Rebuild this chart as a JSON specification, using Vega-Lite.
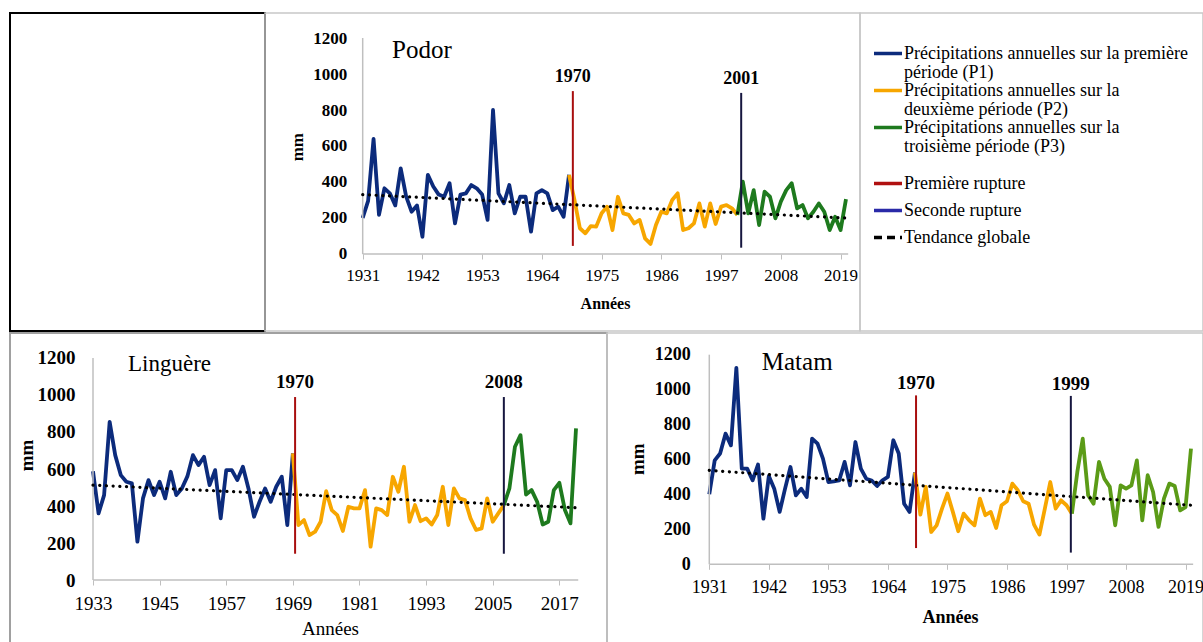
{
  "$schema": "https://vega.github.io/schema/vega-lite/v6.json",
  "background": "white",
  "padding": {"left": 9, "top": 12, "right": 0, "bottom": 0},
  "spacing": 0,
  "resolve": {"scale": {"color": "independent"}, "legend": {"color": "independent"}},
  "config": {
    "view": {"stroke": null},
    "font": "Liberation Serif",
    "text": {"font": "Liberation Serif", "color": "black"}
  },
  "datasets": {
    "podor": [
      {"periode":"P1","annee":1931,"pluie":200},{"periode":"P1","annee":1932,"pluie":295},{"periode":"P1","annee":1933,"pluie":640},{"periode":"P1","annee":1934,"pluie":217},{"periode":"P1","annee":1935,"pluie":365},{"periode":"P1","annee":1936,"pluie":337},{"periode":"P1","annee":1937,"pluie":270},{"periode":"P1","annee":1938,"pluie":476},{"periode":"P1","annee":1939,"pluie":320},{"periode":"P1","annee":1940,"pluie":235},{"periode":"P1","annee":1941,"pluie":270},{"periode":"P1","annee":1942,"pluie":96},{"periode":"P1","annee":1943,"pluie":440},{"periode":"P1","annee":1944,"pluie":375},{"periode":"P1","annee":1945,"pluie":330},{"periode":"P1","annee":1946,"pluie":318},{"periode":"P1","annee":1947,"pluie":393},{"periode":"P1","annee":1948,"pluie":170},{"periode":"P1","annee":1949,"pluie":330},{"periode":"P1","annee":1950,"pluie":337},{"periode":"P1","annee":1951,"pluie":383},{"periode":"P1","annee":1952,"pluie":365},{"periode":"P1","annee":1953,"pluie":330},{"periode":"P1","annee":1954,"pluie":190},{"periode":"P1","annee":1955,"pluie":800},{"periode":"P1","annee":1956,"pluie":337},{"periode":"P1","annee":1957,"pluie":282},{"periode":"P1","annee":1958,"pluie":383},{"periode":"P1","annee":1959,"pluie":226},{"periode":"P1","annee":1960,"pluie":318},{"periode":"P1","annee":1961,"pluie":318},{"periode":"P1","annee":1962,"pluie":124},{"periode":"P1","annee":1963,"pluie":337},{"periode":"P1","annee":1964,"pluie":355},{"periode":"P1","annee":1965,"pluie":337},{"periode":"P1","annee":1966,"pluie":244},{"periode":"P1","annee":1967,"pluie":263},{"periode":"P1","annee":1968,"pluie":207},{"periode":"P1","annee":1969,"pluie":440},
      {"periode":"P2","annee":1969,"pluie":440},{"periode":"P2","annee":1970,"pluie":300},{"periode":"P2","annee":1971,"pluie":143},{"periode":"P2","annee":1972,"pluie":115},{"periode":"P2","annee":1973,"pluie":155},{"periode":"P2","annee":1974,"pluie":152},{"periode":"P2","annee":1975,"pluie":226},{"periode":"P2","annee":1976,"pluie":263},{"periode":"P2","annee":1977,"pluie":133},{"periode":"P2","annee":1978,"pluie":318},{"periode":"P2","annee":1979,"pluie":226},{"periode":"P2","annee":1980,"pluie":217},{"periode":"P2","annee":1981,"pluie":170},{"periode":"P2","annee":1982,"pluie":189},{"periode":"P2","annee":1983,"pluie":87},{"periode":"P2","annee":1984,"pluie":56},{"periode":"P2","annee":1985,"pluie":161},{"periode":"P2","annee":1986,"pluie":235},{"periode":"P2","annee":1987,"pluie":226},{"periode":"P2","annee":1988,"pluie":300},{"periode":"P2","annee":1989,"pluie":337},{"periode":"P2","annee":1990,"pluie":133},{"periode":"P2","annee":1991,"pluie":143},{"periode":"P2","annee":1992,"pluie":170},{"periode":"P2","annee":1993,"pluie":281},{"periode":"P2","annee":1994,"pluie":152},{"periode":"P2","annee":1995,"pluie":281},{"periode":"P2","annee":1996,"pluie":167},{"periode":"P2","annee":1997,"pluie":263},{"periode":"P2","annee":1998,"pluie":272},{"periode":"P2","annee":1999,"pluie":254},{"periode":"P2","annee":2000,"pluie":217},
      {"periode":"P3","annee":2000,"pluie":217},{"periode":"P3","annee":2001,"pluie":402},{"periode":"P3","annee":2002,"pluie":226},{"periode":"P3","annee":2003,"pluie":355},{"periode":"P3","annee":2004,"pluie":161},{"periode":"P3","annee":2005,"pluie":346},{"periode":"P3","annee":2006,"pluie":318},{"periode":"P3","annee":2007,"pluie":198},{"periode":"P3","annee":2008,"pluie":291},{"periode":"P3","annee":2009,"pluie":355},{"periode":"P3","annee":2010,"pluie":393},{"periode":"P3","annee":2011,"pluie":254},{"periode":"P3","annee":2012,"pluie":272},{"periode":"P3","annee":2013,"pluie":198},{"periode":"P3","annee":2014,"pluie":235},{"periode":"P3","annee":2015,"pluie":281},{"periode":"P3","annee":2016,"pluie":235},{"periode":"P3","annee":2017,"pluie":133},{"periode":"P3","annee":2018,"pluie":207},{"periode":"P3","annee":2019,"pluie":133},{"periode":"P3","annee":2020,"pluie":305}
    ],
    "linguere": [
      {"periode":"P1","annee":1933,"pluie":588},{"periode":"P1","annee":1934,"pluie":360},{"periode":"P1","annee":1935,"pluie":459},{"periode":"P1","annee":1936,"pluie":855},{"periode":"P1","annee":1937,"pluie":675},{"periode":"P1","annee":1938,"pluie":567},{"periode":"P1","annee":1939,"pluie":531},{"periode":"P1","annee":1940,"pluie":522},{"periode":"P1","annee":1941,"pluie":207},{"periode":"P1","annee":1942,"pluie":441},{"periode":"P1","annee":1943,"pluie":540},{"periode":"P1","annee":1944,"pluie":459},{"periode":"P1","annee":1945,"pluie":531},{"periode":"P1","annee":1946,"pluie":441},{"periode":"P1","annee":1947,"pluie":585},{"periode":"P1","annee":1948,"pluie":459},{"periode":"P1","annee":1949,"pluie":495},{"periode":"P1","annee":1950,"pluie":560},{"periode":"P1","annee":1951,"pluie":675},{"periode":"P1","annee":1952,"pluie":621},{"periode":"P1","annee":1953,"pluie":666},{"periode":"P1","annee":1954,"pluie":513},{"periode":"P1","annee":1955,"pluie":594},{"periode":"P1","annee":1956,"pluie":333},{"periode":"P1","annee":1957,"pluie":594},{"periode":"P1","annee":1958,"pluie":594},{"periode":"P1","annee":1959,"pluie":540},{"periode":"P1","annee":1960,"pluie":612},{"periode":"P1","annee":1961,"pluie":495},{"periode":"P1","annee":1962,"pluie":342},{"periode":"P1","annee":1963,"pluie":423},{"periode":"P1","annee":1964,"pluie":495},{"periode":"P1","annee":1965,"pluie":423},{"periode":"P1","annee":1966,"pluie":504},{"periode":"P1","annee":1967,"pluie":558},{"periode":"P1","annee":1968,"pluie":297},{"periode":"P1","annee":1969,"pluie":684},
      {"periode":"P2","annee":1969,"pluie":684},{"periode":"P2","annee":1970,"pluie":297},{"periode":"P2","annee":1971,"pluie":324},{"periode":"P2","annee":1972,"pluie":243},{"periode":"P2","annee":1973,"pluie":261},{"periode":"P2","annee":1974,"pluie":315},{"periode":"P2","annee":1975,"pluie":480},{"periode":"P2","annee":1976,"pluie":378},{"periode":"P2","annee":1977,"pluie":351},{"periode":"P2","annee":1978,"pluie":265},{"periode":"P2","annee":1979,"pluie":396},{"periode":"P2","annee":1980,"pluie":387},{"periode":"P2","annee":1981,"pluie":387},{"periode":"P2","annee":1982,"pluie":486},{"periode":"P2","annee":1983,"pluie":180},{"periode":"P2","annee":1984,"pluie":387},{"periode":"P2","annee":1985,"pluie":378},{"periode":"P2","annee":1986,"pluie":351},{"periode":"P2","annee":1987,"pluie":558},{"periode":"P2","annee":1988,"pluie":477},{"periode":"P2","annee":1989,"pluie":612},{"periode":"P2","annee":1990,"pluie":315},{"periode":"P2","annee":1991,"pluie":405},{"periode":"P2","annee":1992,"pluie":318},{"periode":"P2","annee":1993,"pluie":333},{"periode":"P2","annee":1994,"pluie":300},{"periode":"P2","annee":1995,"pluie":351},{"periode":"P2","annee":1996,"pluie":504},{"periode":"P2","annee":1997,"pluie":297},{"periode":"P2","annee":1998,"pluie":495},{"periode":"P2","annee":1999,"pluie":441},{"periode":"P2","annee":2000,"pluie":432},{"periode":"P2","annee":2001,"pluie":333},{"periode":"P2","annee":2002,"pluie":270},{"periode":"P2","annee":2003,"pluie":279},{"periode":"P2","annee":2004,"pluie":441},{"periode":"P2","annee":2005,"pluie":315},{"periode":"P2","annee":2006,"pluie":360},{"periode":"P2","annee":2007,"pluie":405},
      {"periode":"P3","annee":2007,"pluie":405},{"periode":"P3","annee":2008,"pluie":495},{"periode":"P3","annee":2009,"pluie":720},{"periode":"P3","annee":2010,"pluie":783},{"periode":"P3","annee":2011,"pluie":462},{"periode":"P3","annee":2012,"pluie":486},{"periode":"P3","annee":2013,"pluie":423},{"periode":"P3","annee":2014,"pluie":300},{"periode":"P3","annee":2015,"pluie":315},{"periode":"P3","annee":2016,"pluie":486},{"periode":"P3","annee":2017,"pluie":525},{"periode":"P3","annee":2018,"pluie":378},{"periode":"P3","annee":2019,"pluie":306},{"periode":"P3","annee":2020,"pluie":819}
    ],
    "matam": [
      {"periode":"P1","annee":1931,"pluie":401},{"periode":"P1","annee":1932,"pluie":595},{"periode":"P1","annee":1933,"pluie":634},{"periode":"P1","annee":1934,"pluie":748},{"periode":"P1","annee":1935,"pluie":681},{"periode":"P1","annee":1936,"pluie":1124},{"periode":"P1","annee":1937,"pluie":548},{"periode":"P1","annee":1938,"pluie":548},{"periode":"P1","annee":1939,"pluie":481},{"periode":"P1","annee":1940,"pluie":571},{"periode":"P1","annee":1941,"pluie":261},{"periode":"P1","annee":1942,"pluie":506},{"periode":"P1","annee":1943,"pluie":433},{"periode":"P1","annee":1944,"pluie":300},{"periode":"P1","annee":1945,"pluie":433},{"periode":"P1","annee":1946,"pluie":557},{"periode":"P1","annee":1947,"pluie":395},{"periode":"P1","annee":1948,"pluie":433},{"periode":"P1","annee":1949,"pluie":385},{"periode":"P1","annee":1950,"pluie":720},{"periode":"P1","annee":1951,"pluie":691},{"periode":"P1","annee":1952,"pluie":605},{"periode":"P1","annee":1953,"pluie":471},{"periode":"P1","annee":1954,"pluie":475},{"periode":"P1","annee":1955,"pluie":480},{"periode":"P1","annee":1956,"pluie":586},{"periode":"P1","annee":1957,"pluie":452},{"periode":"P1","annee":1958,"pluie":700},{"periode":"P1","annee":1959,"pluie":548},{"periode":"P1","annee":1960,"pluie":490},{"periode":"P1","annee":1961,"pluie":480},{"periode":"P1","annee":1962,"pluie":448},{"periode":"P1","annee":1963,"pluie":481},{"periode":"P1","annee":1964,"pluie":500},{"periode":"P1","annee":1965,"pluie":710},{"periode":"P1","annee":1966,"pluie":634},{"periode":"P1","annee":1967,"pluie":347},{"periode":"P1","annee":1968,"pluie":300},{"periode":"P1","annee":1969,"pluie":525},
      {"periode":"P2","annee":1969,"pluie":525},{"periode":"P2","annee":1970,"pluie":284},{"periode":"P2","annee":1971,"pluie":443},{"periode":"P2","annee":1972,"pluie":185},{"periode":"P2","annee":1973,"pluie":223},{"periode":"P2","annee":1974,"pluie":319},{"periode":"P2","annee":1975,"pluie":405},{"periode":"P2","annee":1976,"pluie":300},{"periode":"P2","annee":1977,"pluie":189},{"periode":"P2","annee":1978,"pluie":290},{"periode":"P2","annee":1979,"pluie":252},{"periode":"P2","annee":1980,"pluie":223},{"periode":"P2","annee":1981,"pluie":376},{"periode":"P2","annee":1982,"pluie":281},{"periode":"P2","annee":1983,"pluie":300},{"periode":"P2","annee":1984,"pluie":208},{"periode":"P2","annee":1985,"pluie":338},{"periode":"P2","annee":1986,"pluie":361},{"periode":"P2","annee":1987,"pluie":462},{"periode":"P2","annee":1988,"pluie":424},{"periode":"P2","annee":1989,"pluie":361},{"periode":"P2","annee":1990,"pluie":347},{"periode":"P2","annee":1991,"pluie":227},{"periode":"P2","annee":1992,"pluie":170},{"periode":"P2","annee":1993,"pluie":319},{"periode":"P2","annee":1994,"pluie":471},{"periode":"P2","annee":1995,"pluie":319},{"periode":"P2","annee":1996,"pluie":366},{"periode":"P2","annee":1997,"pluie":338},{"periode":"P2","annee":1998,"pluie":290},
      {"periode":"P3","annee":1998,"pluie":290},{"periode":"P3","annee":1999,"pluie":529},{"periode":"P3","annee":2000,"pluie":719},{"periode":"P3","annee":2001,"pluie":395},{"periode":"P3","annee":2002,"pluie":347},{"periode":"P3","annee":2003,"pluie":586},{"periode":"P3","annee":2004,"pluie":490},{"periode":"P3","annee":2005,"pluie":443},{"periode":"P3","annee":2006,"pluie":223},{"periode":"P3","annee":2007,"pluie":452},{"periode":"P3","annee":2008,"pluie":433},{"periode":"P3","annee":2009,"pluie":452},{"periode":"P3","annee":2010,"pluie":595},{"periode":"P3","annee":2011,"pluie":252},{"periode":"P3","annee":2012,"pluie":510},{"periode":"P3","annee":2013,"pluie":414},{"periode":"P3","annee":2014,"pluie":214},{"periode":"P3","annee":2015,"pluie":376},{"periode":"P3","annee":2016,"pluie":462},{"periode":"P3","annee":2017,"pluie":448},{"periode":"P3","annee":2018,"pluie":309},{"periode":"P3","annee":2019,"pluie":328},{"periode":"P3","annee":2020,"pluie":662}
    ],
    "ruptures": [
      {"station":"Podor","rupture":"1970","type":"R1","annee":1969.7,"bas":45,"haut":905},
      {"station":"Podor","rupture":"2001","type":"R2","annee":2000.7,"bas":35,"haut":895},
      {"station":"Linguère","rupture":"1970","type":"R1","annee":1969.4,"bas":142,"haut":989},
      {"station":"Linguère","rupture":"2008","type":"R2","annee":2007.0,"bas":142,"haut":989},
      {"station":"Matam","rupture":"1970","type":"R1","annee":1969.2,"bas":93,"haut":967},
      {"station":"Matam","rupture":"1999","type":"R2","annee":1997.8,"bas":67,"haut":964}
    ],
    "tendances": [
      {"station":"Podor","annee":1931,"pluie":330},{"station":"Podor","annee":2020,"pluie":200},
      {"station":"Linguère","annee":1933,"pluie":513},{"station":"Linguère","annee":2020,"pluie":391},
      {"station":"Matam","annee":1931,"pluie":538},{"station":"Matam","annee":2020,"pluie":338}
    ]
  },
  "vconcat": [
    {
      "spacing": 0,
      "bounds": "flush",
      "resolve": {"scale": {"color": "independent"}, "legend": {"color": "independent"}},
      "hconcat": [
        {
          "width": 255, "height": 318,
          "view": {"stroke": "black", "strokeWidth": 2},
          "data": {"values": [{}]},
          "mark": {"type": "text", "text": " "},
          "encoding": {}
        },
        {
          "width": 595, "height": 318,
          "view": {"stroke": "#c8c8c8", "strokeWidth": 1.5},
          "layer": [
            {
              "data": {"name": "podor"},
              "mark": {"type": "line", "strokeWidth": 3.8, "strokeJoin": "round"},
              "encoding": {
                "x": {"field": "annee", "type": "quantitative", "scale": {"domain": [1913.01, 2022.58], "nice": false, "zero": false},
                  "axis": {"values": [1931,1942,1953,1964,1975,1986,1997,2008,2019], "format": "d", "offset": -77, "domain": false, "grid": false, "tickSize": 5, "tickColor": "#bfbfbf", "labelFont": "Liberation Serif", "labelFontSize": 17, "labelColor": "black", "labelPadding": 8, "labelFlush": false, "labelOverlap": false, "title": "Années", "titleFont": "Liberation Serif", "titleFontSize": 16, "titleFontWeight": "bold", "titleColor": "black", "titleX": 340, "titleY": 49, "titleBaseline": "middle"}},
                "y": {"field": "pluie", "type": "quantitative", "scale": {"domain": [-427.8, 1338.9], "nice": false, "zero": false},
                  "axis": {"values": [0,200,400,600,800,1000,1200], "format": "d", "offset": -97.7, "domain": false, "ticks": false, "grid": false, "labelFont": "Liberation Serif", "labelFontSize": 17, "labelFontWeight": "bold", "labelColor": "black", "labelPadding": 16, "title": "mm", "titleFont": "Liberation Serif", "titleFontSize": 17, "titleFontWeight": "bold", "titleColor": "black", "titleX": -65.7, "titleY": 133.7, "titleBaseline": "middle", "titleAngle": 270}},
                "color": {"field": "periode", "type": "nominal",
                  "scale": {"domain": ["P1","P2","P3","R1","R2","T"], "range": ["#0c2b7c","#f7a600","#1e7a1e","#b01010","#2a2aa8","#000000"]},
                  "legend": {
                    "orient": "none", "legendX": 607, "legendY": 31.5, "direction": "vertical", "columns": 1,
                    "title": null, "padding": 0, "symbolType": "M-1,0L1,0", "symbolSize": 784, "symbolStrokeWidth": 3.5, "symbolFillColor": "transparent",
                    "labelFont": "Liberation Serif", "labelFontSize": 18, "labelColor": "black", "labelLimit": 420, "labelOffset": 0, "rowPadding": 0,
                    "labelExpr": "datum.label == 'P1' ? ['Précipitations annuelles sur la première', 'période (P1)'] : datum.label == 'P2' ? ['Précipitations annuelles sur la', 'deuxième période (P2)'] : datum.label == 'P3' ? ['Précipitations annuelles sur la', 'troisième période (P3)', ''] : datum.label == 'R1' ? ['Première rupture', ''] : datum.label == 'R2' ? ['Seconde rupture', ''] : 'Tendance globale'",
                    "encode": {
                      "symbols": {"update": {"y": {"value": 9}, "strokeDash": {"signal": "datum.value == 'T' ? [8, 5] : [1, 0]"}, "strokeWidth": {"value": 3.5}}},
                      "labels": {"update": {"y": {"value": 9}, "lineHeight": {"signal": "datum.value == 'R1' || datum.value == 'R2' ? 9 : 19"}}}
                    }
                  }
                }
              }
            },
            {
              "data": {"values": [{}]},
              "mark": {"type": "rule", "color": "#bfbfbf", "strokeWidth": 1.5},
              "encoding": {
                "x": {"datum": 1931, "type": "quantitative", "scale": {"domain": [1913.01, 2022.58], "nice": false, "zero": false}},
                "x2": {"datum": 2020.4},
                "y": {"datum": 0, "type": "quantitative", "scale": {"domain": [-427.8, 1338.9], "nice": false, "zero": false}}
              }
            },
            {
              "data": {"values": [{}]},
              "mark": {"type": "rule", "color": "#bfbfbf", "strokeWidth": 1.5},
              "encoding": {
                "x": {"datum": 1931, "type": "quantitative", "scale": {"domain": [1913.01, 2022.58], "nice": false, "zero": false}},
                "y": {"datum": 0, "type": "quantitative", "scale": {"domain": [-427.8, 1338.9], "nice": false, "zero": false}},
                "y2": {"datum": 1200}
              }
            },
            {
              "data": {"name": "tendances"},
              "transform": [{"filter": "datum.station == 'Podor'"}],
              "mark": {"type": "line", "color": "black", "strokeWidth": 3.2, "strokeDash": [0.1, 6.6], "strokeCap": "round"},
              "encoding": {
                "x": {"field": "annee", "type": "quantitative", "scale": {"domain": [1913.01, 2022.58], "nice": false, "zero": false}},
                "y": {"field": "pluie", "type": "quantitative", "scale": {"domain": [-427.8, 1338.9], "nice": false, "zero": false}}
              }
            },
            {
              "data": {"name": "ruptures"},
              "transform": [{"filter": "datum.station == 'Podor'"}],
              "mark": {"type": "rule", "strokeWidth": 2},
              "encoding": {
                "x": {"field": "annee", "type": "quantitative", "scale": {"domain": [1913.01, 2022.58], "nice": false, "zero": false}},
                "y": {"field": "bas", "type": "quantitative", "scale": {"domain": [-427.8, 1338.9], "nice": false, "zero": false}},
                "y2": {"field": "haut"},
                "color": {"condition": {"test": "datum.type == 'R1'", "value": "#a80e0e"}, "value": "#16163f"}
              }
            },
            {
              "data": {"name": "ruptures"},
              "transform": [{"filter": "datum.station == 'Podor'"}],
              "mark": {"type": "text", "font": "Liberation Serif", "fontSize": 18, "fontWeight": "bold", "dy": -14, "baseline": "middle", "align": "center", "color": "black"},
              "encoding": {
                "x": {"field": "annee", "type": "quantitative", "scale": {"domain": [1913.01, 2022.58], "nice": false, "zero": false}},
                "y": {"field": "haut", "type": "quantitative", "scale": {"domain": [-427.8, 1338.9], "nice": false, "zero": false}},
                "text": {"field": "rupture"}
              }
            },
            {
              "data": {"values": [{"nom": "Podor"}]},
              "mark": {"type": "text", "font": "Liberation Serif", "fontSize": 25, "align": "left", "baseline": "alphabetic", "color": "black"},
              "encoding": {
                "x": {"datum": 1936.4, "type": "quantitative", "scale": {"domain": [1913.01, 2022.58], "nice": false, "zero": false}},
                "y": {"datum": 1089, "type": "quantitative", "scale": {"domain": [-427.8, 1338.9], "nice": false, "zero": false}},
                "text": {"field": "nom"}
              }
            }
          ]
        },
        {
          "width": 343, "height": 318,
          "view": {"stroke": "#c8c8c8", "strokeWidth": 1.5},
          "data": {"values": [{}]},
          "mark": {"type": "text", "text": " "},
          "encoding": {}
        }
      ]
    },
    {
      "spacing": 0,
      "bounds": "flush",
      "resolve": {"scale": {"color": "independent"}, "legend": {"color": "independent"}},
      "hconcat": [
        {
          "width": 597, "height": 311,
          "view": {"stroke": "#a0a0a0", "strokeWidth": 2},
          "layer": [
            {
              "data": {"name": "linguere"},
              "mark": {"type": "line", "strokeWidth": 3.8, "strokeJoin": "round"},
              "encoding": {
                "x": {"field": "annee", "type": "quantitative", "scale": {"domain": [1918.05, 2025.58], "nice": false, "zero": false},
                  "axis": {"values": [1933,1945,1957,1969,1981,1993,2005,2017], "format": "d", "offset": -64, "domain": false, "grid": false, "tickSize": 5, "tickColor": "#bfbfbf", "labelFont": "Liberation Serif", "labelFontSize": 19, "labelColor": "black", "labelPadding": 9, "labelFlush": false, "labelOverlap": false, "title": "Années", "titleFont": "Liberation Serif", "titleFontSize": 19, "titleFontWeight": "normal", "titleColor": "black", "titleX": 320, "titleY": 48, "titleBaseline": "middle"}},
                "y": {"field": "pluie", "type": "quantitative", "scale": {"domain": [-345.9, 1335.1], "nice": false, "zero": false},
                  "axis": {"values": [0,200,400,600,800,1000,1200], "format": "d", "offset": -83, "domain": false, "ticks": false, "grid": false, "labelFont": "Liberation Serif", "labelFontSize": 19, "labelFontWeight": "bold", "labelColor": "black", "labelPadding": 18, "title": "mm", "titleFont": "Liberation Serif", "titleFontSize": 19, "titleFontWeight": "bold", "titleColor": "black", "titleX": -67, "titleY": 122, "titleBaseline": "middle", "titleAngle": 270}},
                "color": {"field": "periode", "type": "nominal",
                  "scale": {"domain": ["P1","P2","P3"], "range": ["#0c2b7c","#f7a600","#1e7a1e"]},
                  "legend": null}
              }
            },
            {
              "data": {"values": [{}]},
              "mark": {"type": "rule", "color": "#bfbfbf", "strokeWidth": 1.5},
              "encoding": {
                "x": {"datum": 1933, "type": "quantitative", "scale": {"domain": [1918.05, 2025.58], "nice": false, "zero": false}},
                "x2": {"datum": 2020.4},
                "y": {"datum": 0, "type": "quantitative", "scale": {"domain": [-345.9, 1335.1], "nice": false, "zero": false}}
              }
            },
            {
              "data": {"values": [{}]},
              "mark": {"type": "rule", "color": "#bfbfbf", "strokeWidth": 1.5},
              "encoding": {
                "x": {"datum": 1933, "type": "quantitative", "scale": {"domain": [1918.05, 2025.58], "nice": false, "zero": false}},
                "y": {"datum": 0, "type": "quantitative", "scale": {"domain": [-345.9, 1335.1], "nice": false, "zero": false}},
                "y2": {"datum": 1200}
              }
            },
            {
              "data": {"name": "tendances"},
              "transform": [{"filter": "datum.station == 'Linguère'"}],
              "mark": {"type": "line", "color": "black", "strokeWidth": 3.2, "strokeDash": [0.1, 6.6], "strokeCap": "round"},
              "encoding": {
                "x": {"field": "annee", "type": "quantitative", "scale": {"domain": [1918.05, 2025.58], "nice": false, "zero": false}},
                "y": {"field": "pluie", "type": "quantitative", "scale": {"domain": [-345.9, 1335.1], "nice": false, "zero": false}}
              }
            },
            {
              "data": {"name": "ruptures"},
              "transform": [{"filter": "datum.station == 'Linguère'"}],
              "mark": {"type": "rule", "strokeWidth": 2},
              "encoding": {
                "x": {"field": "annee", "type": "quantitative", "scale": {"domain": [1918.05, 2025.58], "nice": false, "zero": false}},
                "y": {"field": "bas", "type": "quantitative", "scale": {"domain": [-345.9, 1335.1], "nice": false, "zero": false}},
                "y2": {"field": "haut"},
                "color": {"condition": {"test": "datum.type == 'R1'", "value": "#a80e0e"}, "value": "#16163f"}
              }
            },
            {
              "data": {"name": "ruptures"},
              "transform": [{"filter": "datum.station == 'Linguère'"}],
              "mark": {"type": "text", "font": "Liberation Serif", "fontSize": 19, "fontWeight": "bold", "dy": -15, "baseline": "middle", "align": "center", "color": "black"},
              "encoding": {
                "x": {"field": "annee", "type": "quantitative", "scale": {"domain": [1918.05, 2025.58], "nice": false, "zero": false}},
                "y": {"field": "haut", "type": "quantitative", "scale": {"domain": [-345.9, 1335.1], "nice": false, "zero": false}},
                "text": {"field": "rupture"}
              }
            },
            {
              "data": {"values": [{"nom": "Linguère"}]},
              "mark": {"type": "text", "font": "Liberation Serif", "fontSize": 23, "align": "left", "baseline": "alphabetic", "color": "black"},
              "encoding": {
                "x": {"datum": 1939.3, "type": "quantitative", "scale": {"domain": [1918.05, 2025.58], "nice": false, "zero": false}},
                "y": {"datum": 1130, "type": "quantitative", "scale": {"domain": [-345.9, 1335.1], "nice": false, "zero": false}},
                "text": {"field": "nom"}
              }
            }
          ]
        },
        {
          "width": 596, "height": 311,
          "view": {"stroke": "#c8c8c8", "strokeWidth": 1.5},
          "layer": [
            {
              "data": {"name": "matam"},
              "mark": {"type": "line", "strokeWidth": 3.8, "strokeJoin": "round"},
              "encoding": {
                "x": {"field": "annee", "type": "quantitative", "scale": {"domain": [1912.10, 2022.22], "nice": false, "zero": false},
                  "axis": {"values": [1931,1942,1953,1964,1975,1986,1997,2008,2019], "format": "d", "offset": -79.7, "domain": false, "grid": false, "tickSize": 5, "tickColor": "#bfbfbf", "labelFont": "Liberation Serif", "labelFontSize": 18, "labelColor": "black", "labelPadding": 9, "labelFlush": false, "labelOverlap": false, "title": "Années", "titleFont": "Liberation Serif", "titleFontSize": 18, "titleFontWeight": "bold", "titleColor": "black", "titleX": 343, "titleY": 53, "titleBaseline": "middle"}},
                "y": {"field": "pluie", "type": "quantitative", "scale": {"domain": [-456.3, 1324.2], "nice": false, "zero": false},
                  "axis": {"values": [0,200,400,600,800,1000,1200], "format": "d", "offset": -102.3, "domain": false, "ticks": false, "grid": false, "labelFont": "Liberation Serif", "labelFontSize": 18, "labelFontWeight": "bold", "labelColor": "black", "labelPadding": 19, "title": "mm", "titleFont": "Liberation Serif", "titleFontSize": 19, "titleFontWeight": "bold", "titleColor": "black", "titleX": -71.8, "titleY": 125.7, "titleBaseline": "middle", "titleAngle": 270}},
                "color": {"field": "periode", "type": "nominal",
                  "scale": {"domain": ["P1","P2","P3"], "range": ["#0c2b7c","#f7a600","#5b9b17"]},
                  "legend": null}
              }
            },
            {
              "data": {"values": [{}]},
              "mark": {"type": "rule", "color": "#bfbfbf", "strokeWidth": 1.5},
              "encoding": {
                "x": {"datum": 1931, "type": "quantitative", "scale": {"domain": [1912.10, 2022.22], "nice": false, "zero": false}},
                "x2": {"datum": 2020.4},
                "y": {"datum": 0, "type": "quantitative", "scale": {"domain": [-456.3, 1324.2], "nice": false, "zero": false}}
              }
            },
            {
              "data": {"values": [{}]},
              "mark": {"type": "rule", "color": "#bfbfbf", "strokeWidth": 1.5},
              "encoding": {
                "x": {"datum": 1931, "type": "quantitative", "scale": {"domain": [1912.10, 2022.22], "nice": false, "zero": false}},
                "y": {"datum": 0, "type": "quantitative", "scale": {"domain": [-456.3, 1324.2], "nice": false, "zero": false}},
                "y2": {"datum": 1200}
              }
            },
            {
              "data": {"name": "tendances"},
              "transform": [{"filter": "datum.station == 'Matam'"}],
              "mark": {"type": "line", "color": "black", "strokeWidth": 3.2, "strokeDash": [0.1, 6.6], "strokeCap": "round"},
              "encoding": {
                "x": {"field": "annee", "type": "quantitative", "scale": {"domain": [1912.10, 2022.22], "nice": false, "zero": false}},
                "y": {"field": "pluie", "type": "quantitative", "scale": {"domain": [-456.3, 1324.2], "nice": false, "zero": false}}
              }
            },
            {
              "data": {"name": "ruptures"},
              "transform": [{"filter": "datum.station == 'Matam'"}],
              "mark": {"type": "rule", "strokeWidth": 2},
              "encoding": {
                "x": {"field": "annee", "type": "quantitative", "scale": {"domain": [1912.10, 2022.22], "nice": false, "zero": false}},
                "y": {"field": "bas", "type": "quantitative", "scale": {"domain": [-456.3, 1324.2], "nice": false, "zero": false}},
                "y2": {"field": "haut"},
                "color": {"condition": {"test": "datum.type == 'R1'", "value": "#a80e0e"}, "value": "#16163f"}
              }
            },
            {
              "data": {"name": "ruptures"},
              "transform": [{"filter": "datum.station == 'Matam'"}],
              "mark": {"type": "text", "font": "Liberation Serif", "fontSize": 19, "fontWeight": "bold", "dy": -12, "baseline": "middle", "align": "center", "color": "black"},
              "encoding": {
                "x": {"field": "annee", "type": "quantitative", "scale": {"domain": [1912.10, 2022.22], "nice": false, "zero": false}},
                "y": {"field": "haut", "type": "quantitative", "scale": {"domain": [-456.3, 1324.2], "nice": false, "zero": false}},
                "text": {"field": "rupture"}
              }
            },
            {
              "data": {"values": [{"nom": "Matam"}]},
              "mark": {"type": "text", "font": "Liberation Serif", "fontSize": 25, "align": "left", "baseline": "alphabetic", "color": "black"},
              "encoding": {
                "x": {"datum": 1940.7, "type": "quantitative", "scale": {"domain": [1912.10, 2022.22], "nice": false, "zero": false}},
                "y": {"datum": 1112, "type": "quantitative", "scale": {"domain": [-456.3, 1324.2], "nice": false, "zero": false}},
                "text": {"field": "nom"}
              }
            }
          ]
        }
      ]
    }
  ]
}
